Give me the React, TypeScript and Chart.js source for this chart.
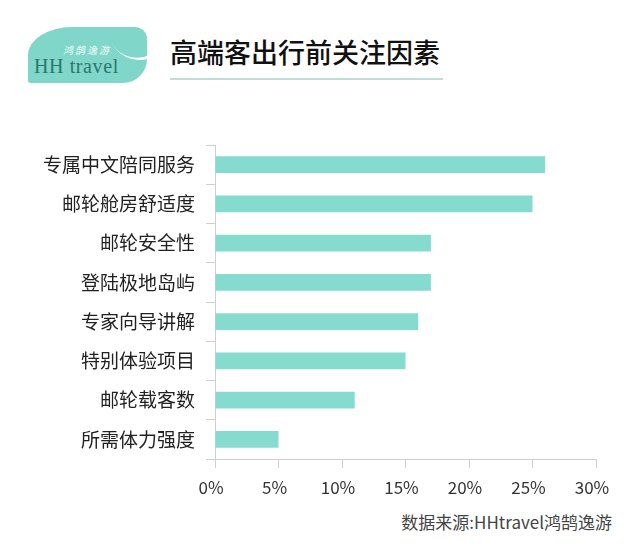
import React, { useEffect, useRef } from "react";
import { Chart, registerables } from "chart.js";

Chart.register(...registerables);

const categories = [
  "专属中文陪同服务",
  "邮轮舱房舒适度",
  "邮轮安全性",
  "登陆极地岛屿",
  "专家向导讲解",
  "特别体验项目",
  "邮轮载客数",
  "所需体力强度",
];
const values = [26, 25, 17, 17, 16, 15, 11, 5];
const xTicks = [0, 5, 10, 15, 20, 25, 30];

const TITLE = "高端客出行前关注因素";
const SOURCE = "数据来源:HHtravel鸿鹄逸游";
const LOGO_CN = "鸿鹄逸游";
const LOGO_EN = "HH travel";

const CJK = '"Noto Sans CJK SC", "Noto Sans", sans-serif';

export default function App() {
  const ref = useRef<HTMLCanvasElement | null>(null);

  useEffect(() => {
    if (!ref.current) return;
    const chart = new Chart(ref.current, {
      type: "bar",
      data: {
        labels: categories,
        datasets: [
          {
            data: values,
            backgroundColor: "#86dbcf",
            borderWidth: 0,
            categoryPercentage: 1,
            barPercentage: 0.43,
          },
        ],
      },
      options: {
        indexAxis: "y",
        responsive: false,
        animation: false,
        layout: { padding: { left: 0, right: 44, top: 15, bottom: 0 } },
        plugins: {
          legend: { display: false },
          tooltip: { enabled: false },
        },
        scales: {
          x: {
            min: xTicks[0],
            max: xTicks[xTicks.length - 1],
            afterBuildTicks: (scale: any) => {
              scale.ticks = xTicks.map((v) => ({ value: v }));
            },
            afterFit: (scale: any) => {
              scale.height = 41;
              scale.paddingLeft = 0;
              scale.paddingRight = 0;
            },
            grid: {
              drawOnChartArea: false,
              drawTicks: true,
              tickLength: 9,
              color: "#cfcfcf",
            },
            border: { color: "#cfcfcf" },
            ticks: {
              padding: 9,
              labelOffset: -4,
              color: "#333",
              font: { family: CJK, size: 17 },
              callback: (v: any) => v + "%",
            },
          },
          y: {
            afterFit: (scale: any) => {
              scale.width = 215;
              scale.paddingTop = 0;
              scale.paddingBottom = 0;
            },
            grid: {
              drawOnChartArea: false,
              drawTicks: true,
              tickLength: 9,
              offset: true,
              color: "#cfcfcf",
            },
            border: { color: "#cfcfcf" },
            ticks: {
              padding: 11,
              color: "#222",
              font: { family: CJK, size: 19 },
            },
          },
        },
      },
    });
    return () => chart.destroy();
  }, []);

  return (
    <div
      style={{
        position: "absolute",
        left: 0,
        top: 0,
        width: 640,
        height: 550,
        background: "#fff",
        overflow: "hidden",
      }}
    >
      {/* logo */}
      <div
        style={{
          position: "absolute",
          left: 28,
          top: 27,
          width: 119,
          height: 56,
          background: "#80d6c9",
          borderRadius: "44px 12px 24px 3px / 28px 12px 24px 3px",
          overflow: "hidden",
        }}
      >
        <div
          style={{
            position: "absolute",
            left: 80,
            top: -30,
            width: 60,
            height: 60,
            borderRadius: "50%",
            borderBottom: "3px solid #ffffff",
            borderRight: "2px solid transparent",
            transform: "rotate(-30deg)",
          }}
        />
        <div
          style={{
            position: "absolute",
            left: 35,
            top: 17,
            fontFamily: CJK,
            fontSize: 10,
            color: "#f2fbf9",
            letterSpacing: 2,
            fontStyle: "italic",
            lineHeight: "12px",
          }}
        >
          {LOGO_CN}
        </div>
        <div
          style={{
            position: "absolute",
            left: 6,
            top: 27,
            fontFamily: '"Liberation Serif", "DejaVu Serif", serif',
            fontSize: 20,
            color: "#2a786b",
            letterSpacing: 0.6,
            lineHeight: "24px",
            whiteSpace: "nowrap",
          }}
        >
          {LOGO_EN}
        </div>
      </div>

      {/* title */}
      <div
        style={{
          position: "absolute",
          left: 170,
          top: 34,
          fontFamily: CJK,
          fontSize: 27,
          fontWeight: 500,
          color: "#111",
          lineHeight: "36px",
          whiteSpace: "nowrap",
        }}
      >
        {TITLE}
      </div>
      <div
        style={{
          position: "absolute",
          left: 170,
          top: 78,
          width: 273,
          height: 2,
          background: "#c4dcd7",
        }}
      />

      <canvas
        ref={ref}
        width={640}
        height={370}
        style={{ position: "absolute", left: 0, top: 130, width: 640, height: 370 }}
      />

      <div
        style={{
          position: "absolute",
          right: 28,
          top: 510,
          fontFamily: CJK,
          fontSize: 17,
          color: "#444",
          lineHeight: "24px",
          whiteSpace: "nowrap",
        }}
      >
        {SOURCE}
      </div>
    </div>
  );
}
